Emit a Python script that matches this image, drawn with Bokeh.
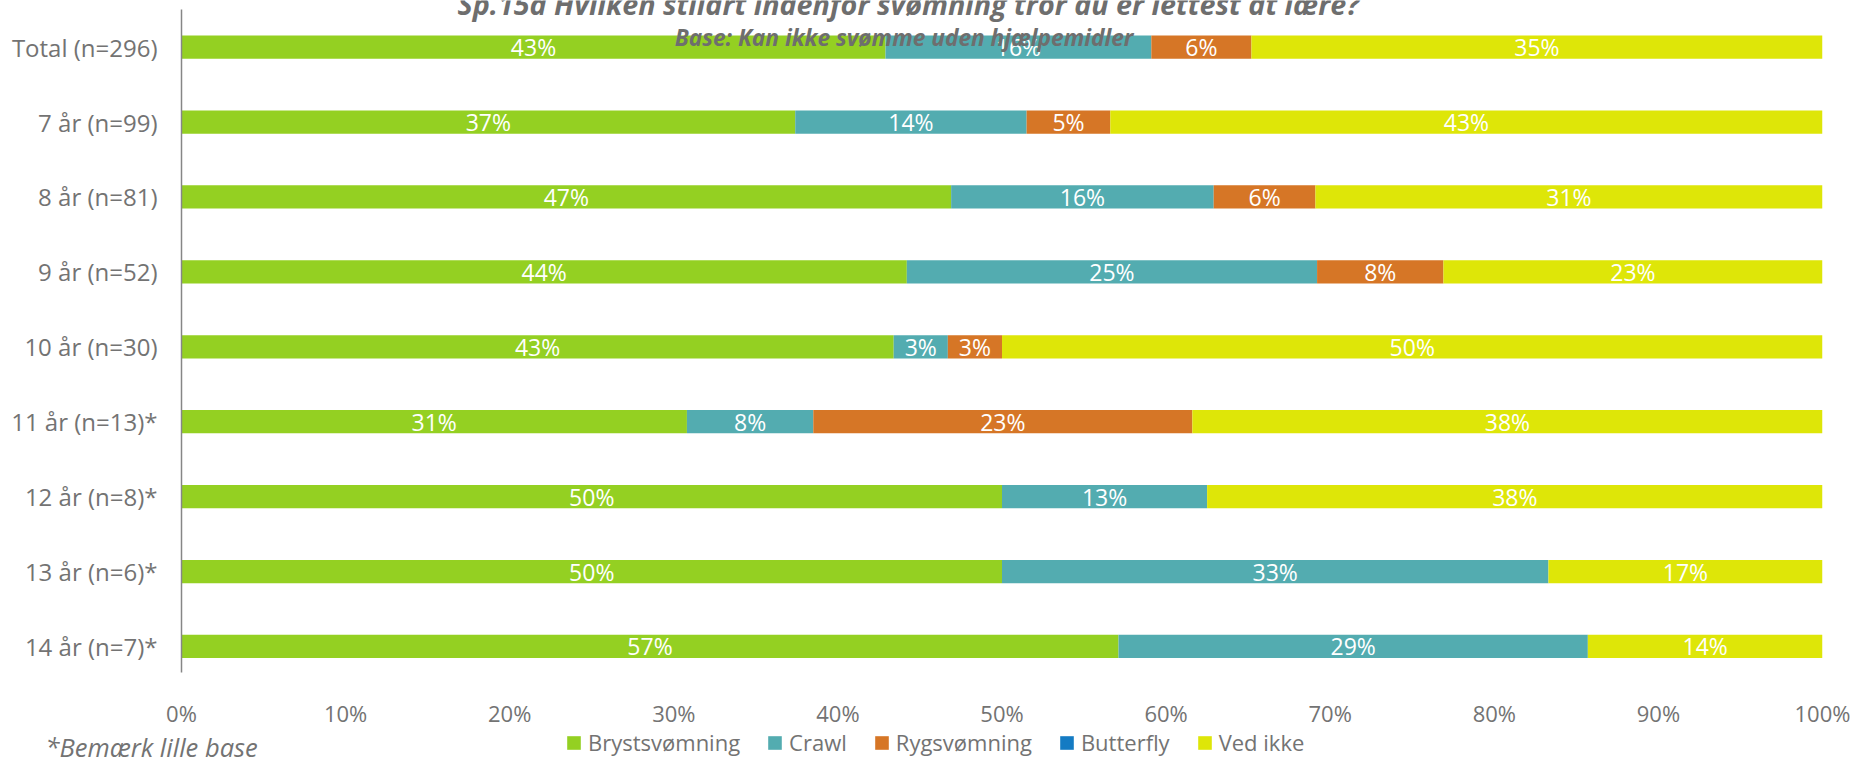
from bokeh.plotting import figure
from bokeh.models import ColumnDataSource, Range1d, Label, FixedTicker
from bokeh.layouts import column
from bokeh.core.properties import value
from bokeh.embed import file_html
from bokeh.resources import INLINE

categories = ["Total (n=296)", "7 år (n=99)", "8 år (n=81)", "9 år (n=52)", "10 år (n=30)",
              "11 år (n=13)*", "12 år (n=8)*", "13 år (n=6)*", "14 år (n=7)*"]
series_names = ["Brystsvømning", "Crawl", "Rygsvømning", "Butterfly", "Ved ikke"]
brystsvomning = [42.9, 37.4, 46.9, 44.2, 43.4, 30.8, 50.0, 50.0, 57.1]
crawl = [16.2, 14.1, 16.0, 25.0, 3.3, 7.7, 12.5, 33.3, 28.6]
rygsvomning = [6.1, 5.1, 6.2, 7.7, 3.3, 23.1, 0.0, 0.0, 0.0]
butterfly = [0.0, 0.0, 0.0, 0.0, 0.0, 0.0, 0.0, 0.0, 0.0]
ved_ikke = [34.8, 43.4, 30.9, 23.1, 50.0, 38.4, 37.5, 16.7, 14.3]
x_ticks = [0, 10, 20, 30, 40, 50, 60, 70, 80, 90, 100]
x_tick_labels = ["0%", "10%", "20%", "30%", "40%", "50%", "60%", "70%", "80%", "90%", "100%"]
colors = ["#94D022", "#53ACB0", "#D67626", "#147BC3", "#DEE608"]
title_text = "Sp.15a Hvilken stilart indenfor svømning tror du er lettest at lære?"
subtitle_text = "Base: Kan ikke svømme uden hjælpemidler"
footnote_text = "*Bemærk lille base"

n = len(categories)
ypos = [n - 0.5 - i for i in range(n)]  # Total on top

keys = ["s0", "s1", "s2", "s3", "s4"]
series = [brystsvomning, crawl, rygsvomning, butterfly, ved_ikke]
data = {"y": ypos, "cat": categories}
for k, s in zip(keys, series):
    data[k] = s
source = ColumnDataSource(data)

# data labels
lx, ly, lt = [], [], []
for i in range(n):
    cum = 0.0
    for s in series:
        v = s[i]
        if v > 0:
            lx.append(cum + v / 2.0)
            ly.append(ypos[i])
            lt.append(f"{int(v + 0.5)}%")
        cum += v
label_src = ColumnDataSource(dict(x=lx, y=ly, t=lt))

FONT = "Open Sans"
GREY = "#737373"
W = 1856

y_end = 9.1226
y_start = 0.1522

p = figure(width=W, height=730, output_backend="svg", toolbar_location=None,
           x_range=Range1d(0, 100), y_range=Range1d(y_start, y_end),
           min_border_left=181, min_border_right=34, min_border_top=0, min_border_bottom=48)
p.outline_line_color = None
p.xgrid.visible = False
p.ygrid.visible = False

p.hbar_stack(keys, y="y", height=0.31, color=colors, line_color=None, source=source)

p.text(x="x", y="y", text="t", source=label_src, text_align="center", text_baseline="middle",
       text_color="white", text_font=value(FONT), text_font_size="23px")

xa = p.xaxis[0]
xa.ticker = FixedTicker(ticks=x_ticks)
xa.major_label_overrides = {t: l for t, l in zip(x_ticks, x_tick_labels)}
xa.axis_line_color = None
xa.major_tick_line_color = None
xa.minor_tick_line_color = None
xa.major_tick_out = 0
xa.major_label_standoff = 25
xa.major_label_text_font = FONT
xa.major_label_text_font_size = "22px"
xa.major_label_text_color = GREY

ya = p.yaxis[0]
ya.ticker = FixedTicker(ticks=ypos)
ya.major_label_overrides = {y: c for y, c in zip(ypos, categories)}
ya.bounds = (y_start, float(n))
ya.axis_line_color = "#868686"
ya.axis_line_width = 1.5
ya.major_tick_line_color = None
ya.minor_tick_line_color = None
ya.major_tick_out = 0
ya.major_label_standoff = 24
ya.major_label_text_font = FONT
ya.major_label_text_font_size = "24px"
ya.major_label_text_color = GREY

p.add_layout(Label(x=44.3, y=9.089, text=title_text, text_align="center", text_baseline="middle",
                   text_font=FONT, text_font_style="bold italic", text_font_size="28.7px",
                   text_color="#6E6E6E"))
p.add_layout(Label(x=44.03, y=8.634, text=subtitle_text, text_align="center", text_baseline="middle",
                   text_font=FONT, text_font_style="bold italic", text_font_size="22.7px",
                   text_color="#6E6E6E"))

# bottom strip: legend + footnote
can_unalign = "frame_align" in type(p).properties()
if can_unalign:
    p.frame_align = False
    xr2 = Range1d(0, W)
    leg_x = 565
else:
    xr2 = Range1d(181, W - 34)
    leg_x = 565 - 181

p2 = figure(width=W, height=28, output_backend="svg", toolbar_location=None,
            x_range=xr2, y_range=Range1d(0, 28),
            min_border_left=0, min_border_right=0, min_border_top=0, min_border_bottom=0)
if can_unalign:
    p2.frame_align = False
p2.axis.visible = False
p2.xgrid.visible = False
p2.ygrid.visible = False
p2.outline_line_color = None
for name, c in zip(series_names, colors):
    p2.hbar(y=[-100], left=[0], right=[0], height=1, color=c, line_color=None, legend_label=name)

lg = p2.legend[0]
lg.orientation = "horizontal"
lg.location = (leg_x, 1)
lg.border_line_color = None
lg.background_fill_alpha = 0
lg.padding = 0
lg.margin = 0
lg.spacing = 26
lg.glyph_width = 17
lg.glyph_height = 17
lg.label_standoff = 6
lg.label_text_font = FONT
lg.label_text_font_size = "22px"
lg.label_text_color = GREY

p2.add_layout(Label(x=45, y=12, text=footnote_text, text_align="left", text_baseline="middle",
                    text_font=FONT, text_font_style="italic", text_font_size="25.5px",
                    text_color=GREY))

layout = column(p, p2, spacing=0)
open("out.html", "w").write(file_html(layout, INLINE))
